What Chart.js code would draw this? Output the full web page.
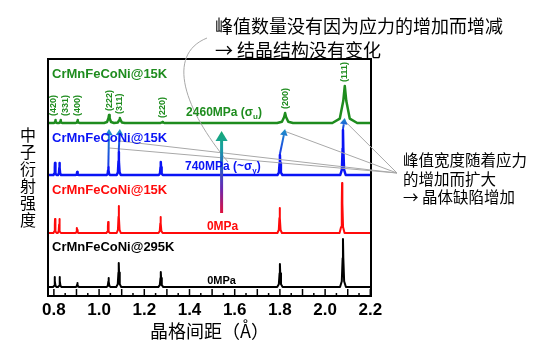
<!DOCTYPE html>
<html lang="zh">
<head>
<meta charset="utf-8">
<script src="https://cdn.jsdelivr.net/npm/chart.js@4.4.1/dist/chart.umd.min.js"></script>
<style>
  html, body { margin: 0; padding: 0; background: #fff; }
</style>
</head>
<body>
<canvas id="xrdChart" width="536" height="353"></canvas>
<script>
/* =====================================================
   DATA (d-spacing in Å, peak heights in arbitrary units)
===================================================== */

const hkl = ["(420)", "(331)", "(400)", "(222)", "(311)", "(220)", "(200)", "(111)"];

const xMin = 0.774;
const xMax = 2.203;
const xTickLabels = [0.8, 1.0, 1.2, 1.4, 1.6, 1.8, 2.0, 2.2];
const xTickMarks = [0.8, 0.9, 1.0, 1.1, 1.2, 1.3, 1.4, 1.5, 1.6, 1.7, 1.8, 1.9, 2.0, 2.1, 2.2];

// baseline of each stacked pattern
const offsets = { rt: 9, red: 63, blue: 121, green: 173 };

// 295K, 0 MPa
const dBlack = [0.804, 0.826, 0.904, 1.042, 1.087, 1.273, 1.800, 2.079];
const hBlack = [10, 10, 4, 9, 24, 15, 23, 48];
const wBlack = [0.008, 0.008, 0.008, 0.009, 0.011, 0.011, 0.012, 0.013];

// 15K, 0 MPa
const dRed = [0.805, 0.824, 0.902, 1.040, 1.087, 1.272, 1.799, 2.075];
const hRed = [14, 14, 5, 11, 27, 16, 25, 50];
const wRed = [0.007, 0.007, 0.008, 0.008, 0.009, 0.009, 0.010, 0.011];

// 15K, 740 MPa
const dBlue = [0.805, 0.825, 0.903, 1.041, 1.087, 1.273, 1.800, 2.079];
const hBlue = [12, 12, 3, 8, 23, 13, 20, 45];
const wBlue = [0.007, 0.007, 0.008, 0.008, 0.009, 0.009, 0.011, 0.012];

// 15K, 2460 MPa
const dGreen = [0.807, 0.830, 0.905, 1.044, 1.092, 1.280, 1.823, 2.087];
const hGreen = [3, 3, 3, 8, 5, 1, 10, 37];
const wGreen = [0.008, 0.008, 0.010, 0.022, 0.022, 0.020, 0.035, 0.055];

// peak profile template (relative x, relative height)
const profileX = [-1, -0.4, -0.12, 0, 0.12, 0.4, 1];
const profileY = [0, 0.12, 0.6, 1, 0.6, 0.12, 0];


/* =====================================================
   BUILD LINE POINTS
===================================================== */

function buildPattern(dArr, hArr, wArr, base){

  const pts = [{ x: xMin, y: base }];

  dArr.forEach((d, i) => {
    profileX.forEach((px, k) => {
      pts.push({ x: d + px * wArr[i], y: base + profileY[k] * hArr[i] });
    });
  });

  pts.push({ x: xMax, y: base });

  return pts;
}


/* =====================================================
   ANNOTATIONS
===================================================== */

const sans = "'Liberation Sans', Arial, sans-serif";
const cjk = "'Noto Sans CJK SC', sans-serif";

const GREEN = "#1e8c1e";
const BLUE = "#0a14f5";
const RED = "#ff0a0a";

function drawText(ctx, str, px, py, font, color, align){
  ctx.font = font;
  ctx.fillStyle = color;
  ctx.textAlign = align || "left";
  ctx.textBaseline = "middle";
  ctx.fillText(str, px, py);
}

function sigmaLabel(ctx, pre, sub, px, py, color){
  drawText(ctx, pre, px, py, "bold 12px " + sans, color);
  let w = ctx.measureText(pre).width;
  drawText(ctx, sub, px + w, py + 4, "bold 8px " + sans, color);
  w += ctx.measureText(sub).width;
  drawText(ctx, ")", px + w, py, "bold 12px " + sans, color);
}

function arrow(ctx, x0, y0, x1, y1, width, head, style){
  const ang = Math.atan2(y1 - y0, x1 - x0);
  const bx = x1 - Math.cos(ang) * head * 0.9;
  const by = y1 - Math.sin(ang) * head * 0.9;

  ctx.strokeStyle = style;
  ctx.fillStyle = style;
  ctx.lineWidth = width;
  ctx.beginPath();
  ctx.moveTo(x0, y0);
  ctx.lineTo(bx, by);
  ctx.stroke();

  ctx.beginPath();
  ctx.moveTo(x1, y1);
  ctx.lineTo(bx + Math.cos(ang + Math.PI / 2) * head * 0.55, by + Math.sin(ang + Math.PI / 2) * head * 0.55);
  ctx.lineTo(bx - Math.cos(ang + Math.PI / 2) * head * 0.55, by - Math.sin(ang + Math.PI / 2) * head * 0.55);
  ctx.closePath();
  ctx.fill();
}

const annotationPlugin = {

  id: "annotations",

  afterDatasetsDraw(chart){

    const { ctx, chartArea: a, scales: { x, y } } = chart;
    const X = v => x.getPixelForValue(v);
    const Y = v => y.getPixelForValue(v);

    ctx.save();

    /* frame + inward ticks */
    ctx.strokeStyle = "#000";
    ctx.lineWidth = 2;
    ctx.strokeRect(a.left, a.top, a.right - a.left, a.bottom - a.top);

    ctx.lineWidth = 1.5;
    xTickMarks.forEach(v => {
      ctx.beginPath();
      ctx.moveTo(X(v), a.bottom);
      ctx.lineTo(X(v), a.bottom - 7);
      ctx.stroke();
      if(v < 2.2){
        ctx.beginPath();
        ctx.moveTo(X(v + 0.05), a.bottom);
        ctx.lineTo(X(v + 0.05), a.bottom - 3);
        ctx.stroke();
      }
    });

    /* gray guide lines */
    ctx.strokeStyle = "#a8a8a8";
    ctx.lineWidth = 1;
    const anchor = [397, 173];
    [[X(dGreen[7]) , Y(offsets.green + 2)],
     [X(dGreen[6]) - 1, Y(offsets.green - 8)],
     [X(dBlue[4]) + 1, Y(offsets.blue + 34)],
     [X(dBlue[3]) + 1, Y(offsets.blue + 27)]].forEach(p => {
      ctx.beginPath();
      ctx.moveTo(anchor[0], anchor[1]);
      ctx.lineTo(p[0], p[1]);
      ctx.stroke();
    });

    ctx.beginPath();
    ctx.moveTo(207, 38);
    ctx.bezierCurveTo(165, 55, 185, 110, 228, 162);
    ctx.stroke();

    /* arrows blue -> green */
    [3, 4, 6, 7].forEach(i => {
      const x0 = X(dBlue[i]), y0 = Y(offsets.blue + hBlue[i] + 1);
      const x1 = X(dGreen[i]), y1 = Y(offsets.green + (i === 7 ? 5 : -6));
      const g = ctx.createLinearGradient(0, y0, 0, y1);
      g.addColorStop(0, "#1a3ce6");
      g.addColorStop(1, "#1e90c8");
      arrow(ctx, x0, y0, x1, y1, 2, 7, g);
    });

    /* big stress arrow */
    const bx = X(1.542), by0 = Y(offsets.red + 20), by1 = Y(offsets.blue + 44);
    const bg = ctx.createLinearGradient(0, by0, 0, by1);
    bg.addColorStop(0, "#e0103c");
    bg.addColorStop(0.3, "#6a28b0");
    bg.addColorStop(0.55, "#2a5cc8");
    bg.addColorStop(0.8, "#18a0a0");
    bg.addColorStop(1, "#16a874");
    arrow(ctx, bx, by0, bx, by1, 3, 11, bg);

    /* sample labels */
    const lx = a.left + 4;
    drawText(ctx, "CrMnFeCoNi@15K", lx, 74, "bold 13px " + sans, GREEN);
    drawText(ctx, "CrMnFeCoNi@15K", lx, 138, "bold 13px " + sans, BLUE);
    drawText(ctx, "CrMnFeCoNi@15K", lx, 190, "bold 13px " + sans, RED);
    drawText(ctx, "CrMnFeCoNi@295K", lx, 247, "bold 13px " + sans, "#000");

    /* stress labels */
    sigmaLabel(ctx, "2460MPa (σ", "u", X(1.385), 113, GREEN);
    sigmaLabel(ctx, "740MPa (~σ", "y", X(1.380), 167, BLUE);
    drawText(ctx, "0MPa", X(1.477), 227, "bold 12px " + sans, RED);
    drawText(ctx, "0MPa", X(1.478), 281, "bold 11px " + sans, "#000");

    /* miller indices */
    const nudge = [-2, 5, 0, 0, 0, 0, 0, 0];
    hkl.forEach((lab, i) => {
      const top = Math.max(offsets.green + hGreen[i] + 4, offsets.green + 5);
      ctx.save();
      ctx.translate(X(dGreen[i]) + nudge[i], Y(top));
      ctx.rotate(-Math.PI / 2);
      drawText(ctx, lab, 0, 0, "bold 9px " + sans, GREEN);
      ctx.restore();
    });

    /* y title, stacked characters */
    Array.from("中子衍射强度").forEach((ch, i) => {
      drawText(ctx, ch, 28, 135 + i * 17, "16px " + cjk, "#000", "center");
    });

    /* explanatory notes */
    drawText(ctx, "峰值数量没有因为应力的增加而增减", 215, 26, "18px " + cjk, "#000");
    drawText(ctx, "→ 结晶结构没有变化", 215, 50, "18px " + cjk, "#000");

    drawText(ctx, "峰值宽度随着应力", 403, 160, "15.5px " + cjk, "#000");
    drawText(ctx, "的增加而扩大", 403, 179, "15.5px " + cjk, "#000");
    drawText(ctx, "→ 晶体缺陷增加", 403, 197, "15.5px " + cjk, "#000");

    ctx.restore();
  }
};


/* =====================================================
   CHART
===================================================== */

Chart.defaults.font.family = sans;

const ctx = document.getElementById("xrdChart").getContext("2d");

new Chart(ctx, {

  type: "line",

  data: {
    datasets: [
      {
        label: "295K 0MPa",
        data: buildPattern(dBlack, hBlack, wBlack, offsets.rt),
        borderColor: "#000",
        borderWidth: 2
      },
      {
        label: "15K 0MPa",
        data: buildPattern(dRed, hRed, wRed, offsets.red),
        borderColor: RED,
        borderWidth: 2
      },
      {
        label: "15K 740MPa",
        data: buildPattern(dBlue, hBlue, wBlue, offsets.blue),
        borderColor: BLUE,
        borderWidth: 2.5
      },
      {
        label: "15K 2460MPa",
        data: buildPattern(dGreen, hGreen, wGreen, offsets.green),
        borderColor: GREEN,
        borderWidth: 2.5
      }
    ]
  },

  options: {
    responsive: false,
    animation: false,
    layout: {
      padding: { left: 48, right: 165, top: 59, bottom: 7 }
    },
    elements: {
      point: { radius: 0 },
      line: { tension: 0, fill: false, borderJoinStyle: "round" }
    },
    plugins: {
      legend: { display: false },
      tooltip: { enabled: false }
    },
    scales: {
      x: {
        type: "linear",
        min: xMin,
        max: xMax,
        grid: { display: false, drawTicks: false },
        border: { display: false },
        afterBuildTicks: s => {
          s.ticks = xTickLabels.map(v => ({ value: v }));
        },
        afterFit: s => {
          s.height = 50;
        },
        ticks: {
          padding: 4,
          color: "#000",
          autoSkip: false,
          maxRotation: 0,
          font: { size: 17, weight: "bold" },
          callback: v => v.toFixed(1)
        },
        title: {
          display: true,
          text: "晶格间距（Å）",
          color: "#000",
          font: { family: cjk, size: 18 },
          padding: { top: 0, bottom: 4 }
        }
      },
      y: {
        display: false,
        min: 0,
        max: 237
      }
    }
  },

  plugins: [annotationPlugin]

});
</script>
</body>
</html>
